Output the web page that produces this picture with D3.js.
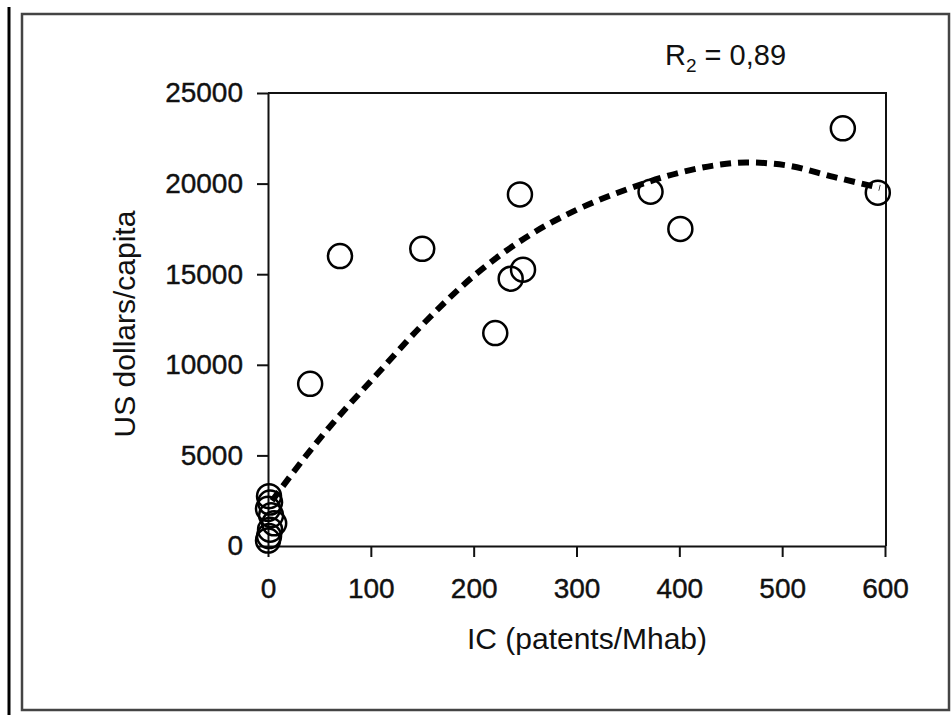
<!DOCTYPE html>
<html>
<head>
<meta charset="utf-8">
<script src="https://cdn.jsdelivr.net/npm/d3@7"></script>
<style>
  body { margin: 0; background: #fff; }
  text { font-family: "Liberation Sans", Arial, sans-serif; fill: #111; }
</style>
</head>
<body>
<div id="chart"></div>
<script>
// observed points (IC, US dollars/capita)
var pointX = [1, 2, 0, 3, 6, 2, 1, 0, 41, 70, 150, 221, 236, 245, 248, 372, 401, 559, 593];
var pointY = [2750, 2400, 2050, 1700, 1250, 900, 550, 300, 8950, 16000, 16400, 11750, 14750, 19400, 15250, 19550, 17500, 23050, 19500];

// fitted curve
var fitX = [4, 25, 50, 75, 100, 150, 200, 250, 300, 350, 400, 440, 465, 505, 550, 595];
var fitY = [2500, 4100, 5900, 7550, 9100, 12200, 14900, 17000, 18550, 19700, 20600, 21050, 21170, 21000, 20370, 19760];

var xTicks = [0, 100, 200, 300, 400, 500, 600];
var yTicks = [0, 5000, 10000, 15000, 20000, 25000];

var width = 951, height = 715;
var plot = {left: 268, right: 885, top: 93, bottom: 546};

var svg = d3.select("#chart").append("svg")
    .attr("width", width)
    .attr("height", height);

// page frame
svg.append("line")
    .attr("x1", 9).attr("x2", 9)
    .attr("y1", 7).attr("y2", height)
    .attr("stroke", "#000").attr("stroke-width", 3);
svg.append("rect")
    .attr("x", 22).attr("y", 14)
    .attr("width", 927).attr("height", 696)
    .attr("fill", "none")
    .attr("stroke", "#444").attr("stroke-width", 2.5);

var x = d3.scaleLinear().domain([0, 600]).range([plot.left, plot.right]);
var y = d3.scaleLinear().domain([0, 25000]).range([plot.bottom, plot.top]);

var xAxis = d3.axisBottom(x).tickValues(xTicks).tickFormat(d3.format("d"))
    .tickSize(11).tickSizeOuter(0).tickPadding(21);
var yAxis = d3.axisLeft(y).tickValues(yTicks).tickFormat(d3.format("d"))
    .tickSize(11).tickSizeOuter(0).tickPadding(14);

function styleTicks(g){
  g.selectAll("text")
    .attr("font-size", 28)
    .attr("fill", "#111")
    .attr("stroke", "#111")
    .attr("stroke-width", 0.4);
}

svg.append("g")
    .attr("transform", "translate(0," + plot.bottom + ")")
    .call(xAxis)
    .call(styleTicks);

svg.append("g")
    .attr("transform", "translate(" + plot.left + ",0)")
    .call(yAxis)
    .call(styleTicks);

svg.selectAll(".domain, .tick line")
    .attr("stroke", "#111").attr("stroke-width", 2);

// top and right edges of the plot box
svg.append("path")
    .attr("d", "M" + x(0) + "," + y(25000) + "H" + (x(600) + 1) + "V" + y(0))
    .attr("fill", "none")
    .attr("stroke", "#111").attr("stroke-width", 2);

// dashed fit line
var fit = fitX.map(function(v, i){ return [v, fitY[i]]; });
svg.append("path")
    .datum(fit)
    .attr("d", d3.line()
        .x(function(d){ return x(d[0]); })
        .y(function(d){ return y(d[1]); })
        .curve(d3.curveMonotoneX))
    .attr("fill", "none")
    .attr("stroke", "#000")
    .attr("stroke-width", 6)
    .attr("stroke-dasharray", "11,7");

// open circles
var pts = pointX.map(function(v, i){ return [v, pointY[i]]; });
svg.selectAll("circle.pt")
    .data(pts)
    .enter()
    .append("circle")
    .attr("class", "pt")
    .attr("cx", function(d){ return x(d[0]); })
    .attr("cy", function(d){ return y(d[1]); })
    .attr("r", 12)
    .attr("fill", "none")
    .attr("stroke", "#000")
    .attr("stroke-width", 2.5);

// axis titles
svg.append("text")
    .attr("x", 587).attr("y", 649)
    .attr("text-anchor", "middle")
    .attr("font-size", 30)
    .text("IC (patents/Mhab)");

svg.append("text")
    .attr("transform", "translate(135,324) rotate(-90)")
    .attr("text-anchor", "middle")
    .attr("font-size", 30)
    .text("US dollars/capita");

// R2 label
var r2 = svg.append("text")
    .attr("x", 665).attr("y", 65)
    .attr("font-size", 29);
r2.append("tspan").text("R");
r2.append("tspan").attr("font-size", 19).attr("dy", 7).text("2");
r2.append("tspan").attr("dy", -7).text(" = 0,89");
</script>
</body>
</html>
